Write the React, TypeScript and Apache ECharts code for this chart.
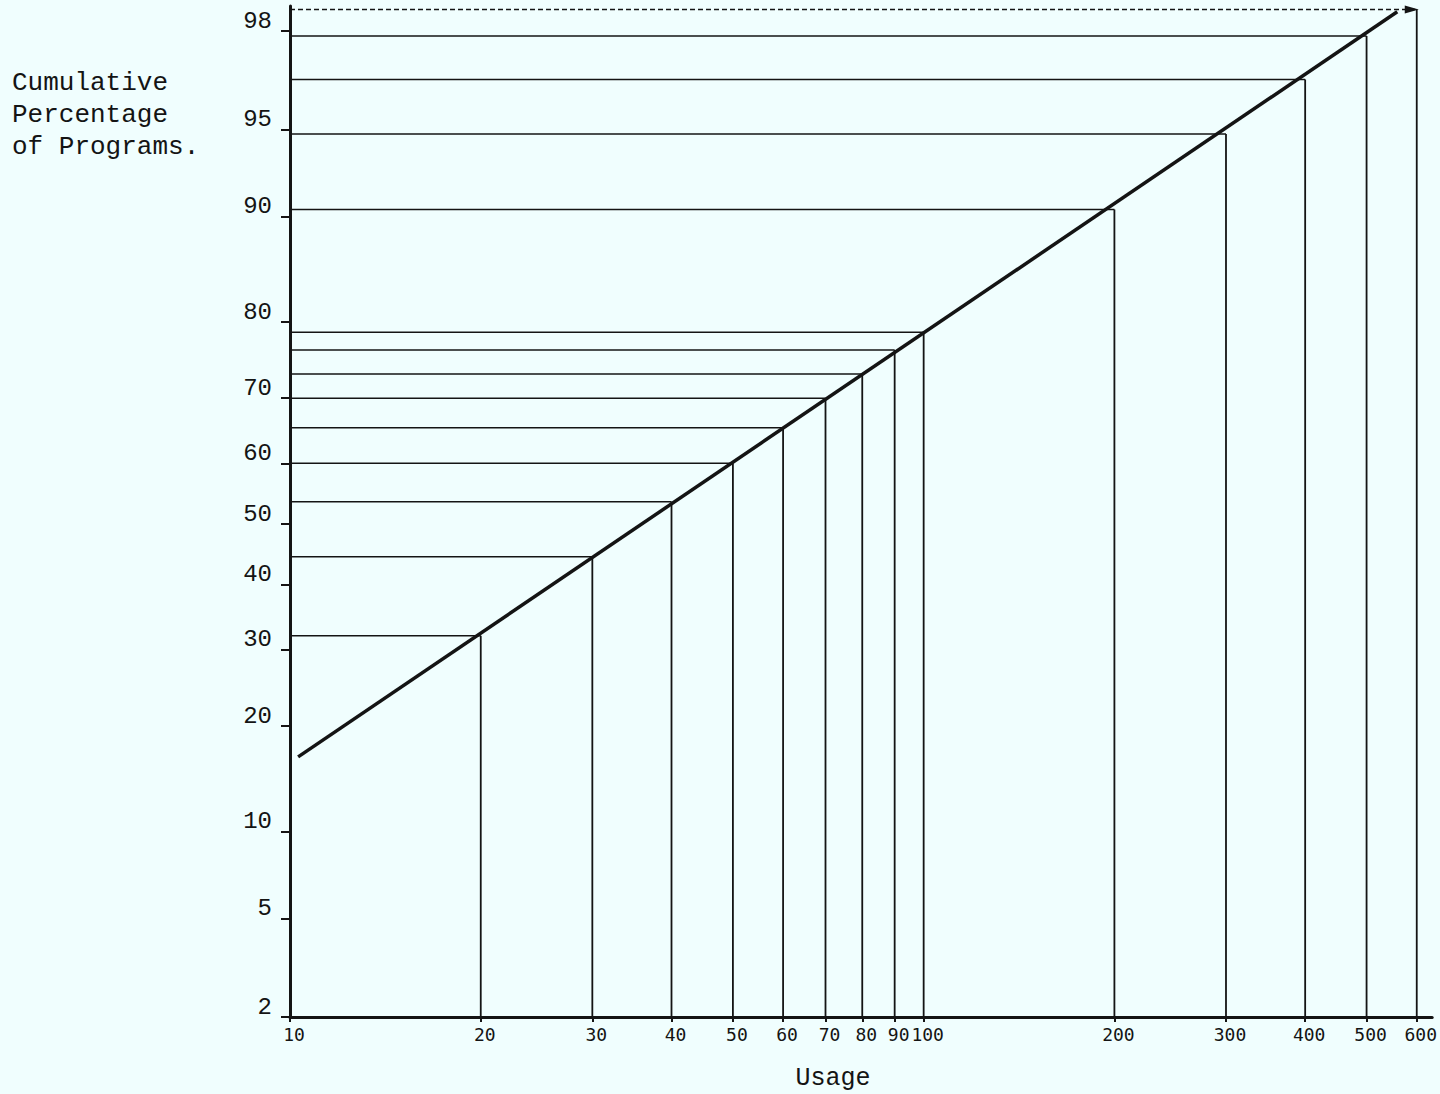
import React, { useEffect, useRef } from "react";
import * as echarts from "echarts";

// ---- data ----
const xTickValues = [10, 20, 30, 40, 50, 60, 70, 80, 90, 100, 200, 300, 400, 500, 600];
const yTickValues = [2, 5, 10, 20, 30, 40, 50, 60, 70, 80, 90, 95, 98];
const lineUsage = [10.3, 559];
const linePct = [16.6, 98.36];
const guideUsage = [20, 30, 40, 50, 60, 70, 80, 90, 100, 200, 300, 400, 500, 600];
const guidePct = [32.1, 44.6, 53.7, 60.0, 65.6, 70.0, 73.4, 76.6, 78.8, 90.5, 94.8, 96.8, 97.9, 98.4];
const yTitleLines = ["Cumulative", "Percentage", "of Programs."];
const xTitle = "Usage";

// inverse normal CDF (probability-paper transform)
function probit(p: number): number {
  const a = [-3.969683028665376e1, 2.209460984245205e2, -2.759285104469687e2, 1.38357751867269e2, -3.066479806614716e1, 2.506628277459239];
  const b = [-5.447609879822406e1, 1.615858368580409e2, -1.556989798598866e2, 6.680131188771972e1, -1.328068155288572e1];
  const c = [-7.784894002430293e-3, -3.223964580411365e-1, -2.400758277161838, -2.549671348324335, 4.374664141464968, 2.938163982698783];
  const d = [7.784695709041462e-3, 3.224671290700398e-1, 2.445134137142996, 3.754408661907416];
  const plow = 0.02425;
  if (p < plow) {
    const q = Math.sqrt(-2 * Math.log(p));
    return (((((c[0] * q + c[1]) * q + c[2]) * q + c[3]) * q + c[4]) * q + c[5]) / ((((d[0] * q + d[1]) * q + d[2]) * q + d[3]) * q + 1);
  }
  if (p <= 1 - plow) {
    const q = p - 0.5;
    const r = q * q;
    return ((((((a[0] * r + a[1]) * r + a[2]) * r + a[3]) * r + a[4]) * r + a[5]) * q) / (((((b[0] * r + b[1]) * r + b[2]) * r + b[3]) * r + b[4]) * r + 1);
  }
  const q = Math.sqrt(-2 * Math.log(1 - p));
  return -(((((c[0] * q + c[1]) * q + c[2]) * q + c[3]) * q + c[4]) * q + c[5]) / ((((d[0] * q + d[1]) * q + d[2]) * q + d[3]) * q + 1);
}

const INK = "#141414";
const BG = "#f0fefe";
const MONO = "'Liberation Mono', 'DejaVu Sans Mono', monospace";

export default function App() {
  const ref = useRef<HTMLDivElement>(null);

  useEffect(() => {
    document.body.style.margin = "0";
    document.body.style.background = BG;
    if (!ref.current) return;
    const chart = echarts.init(ref.current, null, { renderer: "svg" });

    const gridTop = 6;
    const gridBottom = 77;
    const pxPerZ = 240;
    const yMin = probit(0.02);
    const yMax = yMin + (1094 - gridTop - gridBottom) / pxPerZ;
    const xMin = 1;
    const xMax = 2.8025;

    const yTickZ = yTickValues.map((v) => probit(v / 100));
    const xTickL = xTickValues.map((v) => Math.log10(v));

    const nearest = (arr: number[], vals: number[], v: number) => {
      let best = 0;
      let bd = Infinity;
      arr.forEach((z, i) => {
        const dd = Math.abs(z - v);
        if (dd < bd) {
          bd = dd;
          best = i;
        }
      });
      return String(vals[best]);
    };

    const lineData = lineUsage.map((u, i) => [Math.log10(u), probit(linePct[i] / 100)]);
    const guideData = guideUsage.map((u, i) => [Math.log10(u), probit(guidePct[i] / 100)]);
    const lastIdx = guideData.length - 1;

    const option: any = {
      animation: false,
      backgroundColor: BG,
      grid: { left: 290, right: 0, top: gridTop, bottom: gridBottom, containLabel: false },
      xAxis: {
        type: "value",
        min: xMin,
        max: xMax,
        splitLine: { show: false },
        axisLine: { show: true, onZero: false, lineStyle: { color: INK, width: 3 } },
        axisTick: { show: true, customValues: xTickL, length: 5, lineStyle: { color: INK, width: 2 } },
        axisLabel: {
          customValues: xTickL,
          formatter: (v: number) => nearest(xTickL, xTickValues, v),
          fontFamily: "'DejaVu Sans Mono', monospace",
          fontSize: 18,
          color: INK,
          margin: 8,
          padding: [0, 0, 0, 8],
        },
      },
      yAxis: {
        type: "value",
        min: yMin,
        max: yMax,
        splitLine: { show: false },
        axisLine: { show: true, onZero: false, lineStyle: { color: INK, width: 3 } },
        axisTick: { show: true, customValues: yTickZ, length: 9, lineStyle: { color: INK, width: 2 } },
        axisLabel: {
          customValues: yTickZ,
          formatter: (v: number) => nearest(yTickZ, yTickValues, v),
          fontFamily: MONO,
          fontSize: 24,
          color: INK,
          margin: 18,
          verticalAlign: "bottom",
          lineHeight: 20,
        },
      },
      graphic: [
        {
          type: "text",
          left: 12,
          top: 67,
          style: {
            text: yTitleLines.join("\n"),
            font: `26px ${MONO}`,
            lineHeight: 32,
            fill: INK,
          },
        },
        {
          type: "text",
          x: 833,
          y: 1078,
          style: {
            text: xTitle,
            font: `25px ${MONO}`,
            fill: INK,
            textAlign: "center",
            textVerticalAlign: "middle",
          },
        },
      ],
      series: [
        {
          type: "custom",
          name: "guides",
          coordinateSystem: "cartesian2d",
          encode: { x: 0, y: 1 },
          data: guideData,
          z: 2,
          renderItem: (params: any, api: any) => {
            const pt = api.coord([api.value(0), api.value(1)]);
            const base = api.coord([xMin, yMin]);
            const isLast = params.dataIndex === lastIdx;
            const children: any[] = [
              {
                type: "line",
                shape: { x1: base[0], y1: pt[1], x2: pt[0], y2: pt[1] },
                style: { stroke: INK, lineWidth: 1.5, lineDash: isLast ? [5, 3] : null },
              },
              {
                type: "line",
                shape: { x1: pt[0], y1: base[1], x2: pt[0], y2: pt[1] },
                style: { stroke: INK, lineWidth: 1.8 },
              },
            ];
            if (isLast) {
              children.push({
                type: "polygon",
                shape: { points: [[pt[0] + 2, pt[1]], [pt[0] - 12, pt[1] - 4], [pt[0] - 12, pt[1] + 4]] },
                style: { fill: INK },
              });
            }
            return { type: "group", children };
          },
        },
        {
          type: "line",
          name: "cumulative",
          data: lineData,
          showSymbol: false,
          symbol: "none",
          lineStyle: { color: INK, width: 3.5 },
          z: 3,
        },
      ],
    };

    chart.setOption(option);
    return () => chart.dispose();
  }, []);

  return <div ref={ref} style={{ width: 1440, height: 1094 }} />;
}
